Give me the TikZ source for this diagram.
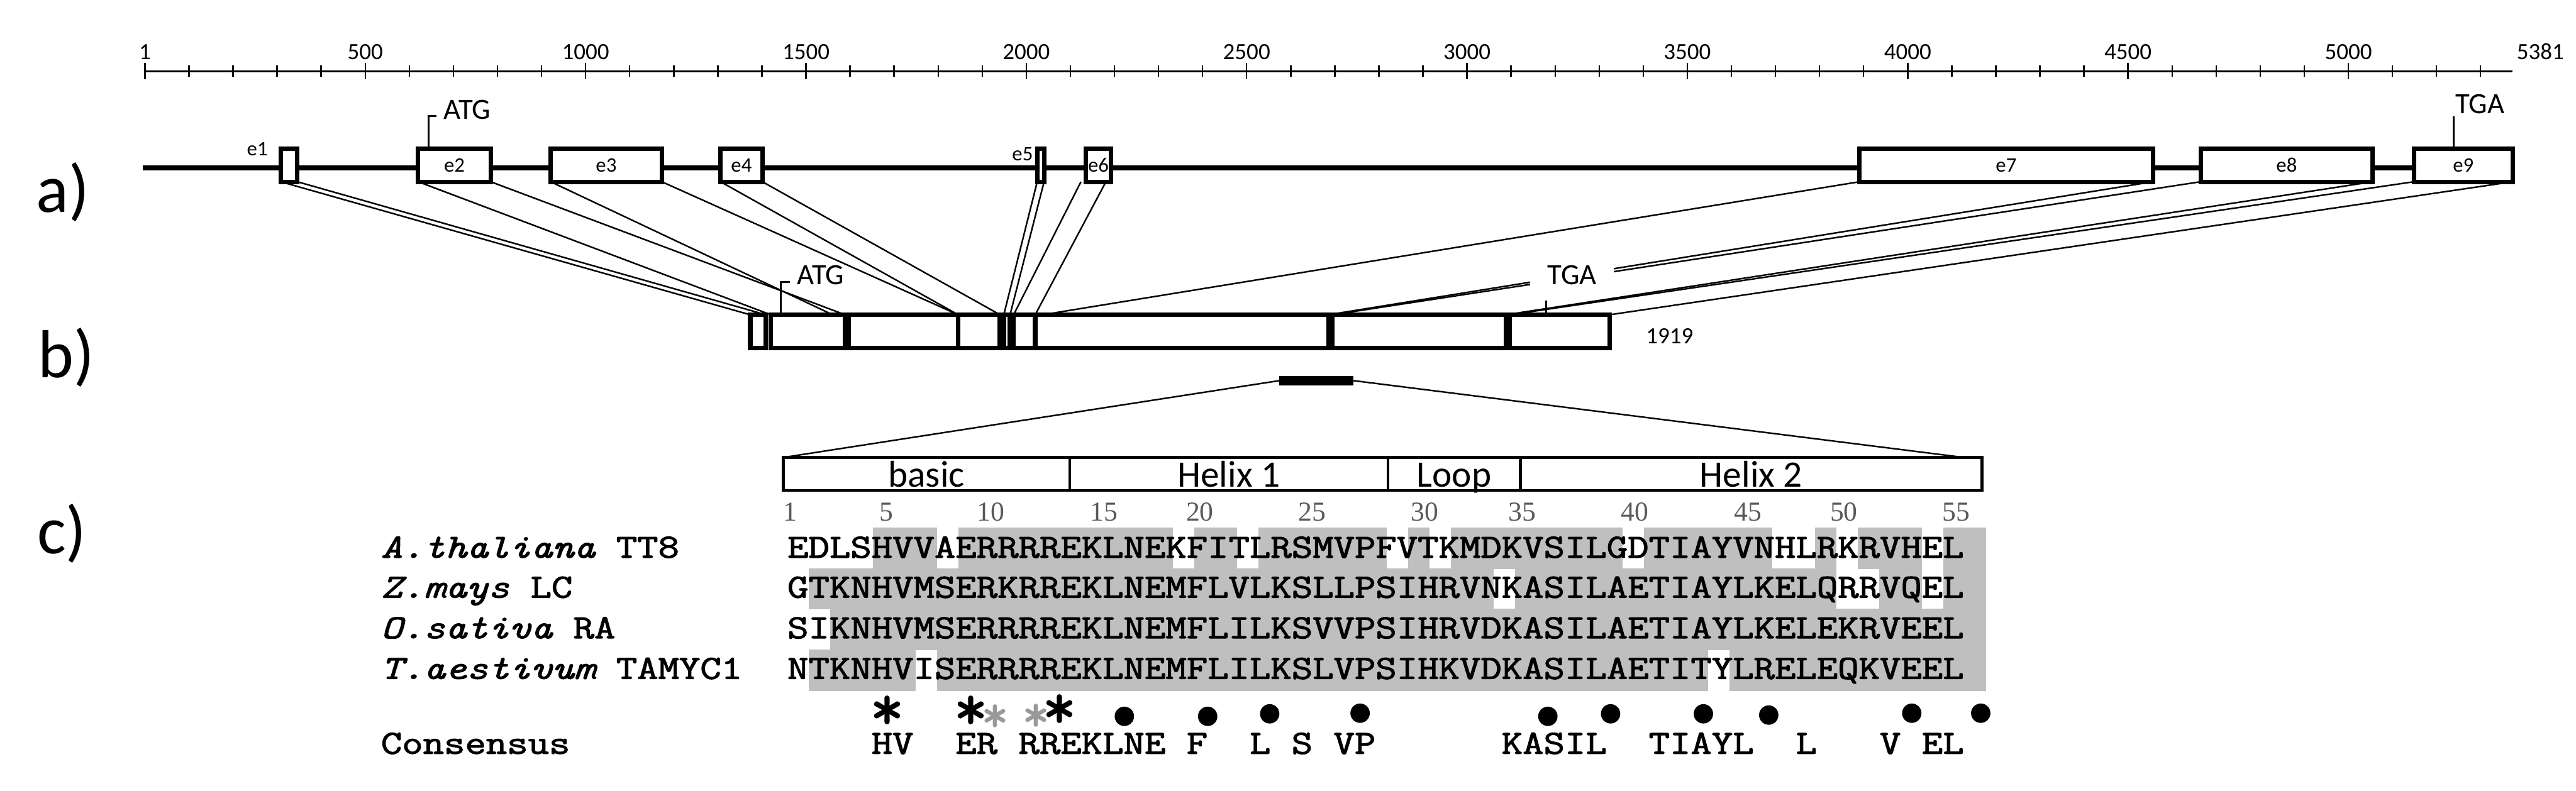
\documentclass[tikz,border=0pt]{standalone}
\usepackage{fontspec}
\usepackage{graphicx}
\setmainfont{Carlito}
\newfontfamily\timesfont{Liberation Serif}
\newfontfamily\aafont[FakeBold=2]{Latin Modern Mono}
\usetikzlibrary{shapes,calc}

\definecolor{aashade}{gray}{0.75}
\definecolor{starshade}{gray}{0.6}
\definecolor{numshade}{gray}{0.35}

\tikzset{
  exon/.style={draw, rectangle, line width=2pt, fill=white, inner sep=0pt, minimum height=0.53cm, font=\fontsize{9.4}{10}\selectfont},
  cdna/.style={draw, rectangle, line width=2.1pt, inner sep=0pt, minimum height=0.53cm},
  motifbox/.style={draw, rectangle, line width=1.3pt, inner sep=0pt, minimum height=0.53cm, text height=0.46cm, text depth=0.04cm, font=\fontsize{17}{18}\selectfont},
  guide/.style={line width=0.7pt},
  leader/.style={line width=0.85pt},
  rulerlab/.style={font=\fontsize{10.6}{11}\selectfont},
  codon/.style={font=\fontsize{13.4}{14}\selectfont},
  panel/.style={font=\fontsize{31}{33}\selectfont},
  aanum/.style={text=numshade, font=\timesfont\fontsize{12.5}{13}\selectfont},
  aarow/.style={anchor=base west, inner sep=0pt, font=\fontsize{18.58}{19}\selectfont},
  consdot/.style={circle, fill=black, inner sep=0pt, minimum size=0.31cm},
  aastar/.style={inner sep=0pt, font=\ttfamily\bfseries\fontsize{30}{30}\selectfont},
  greystar/.style={aastar, text=starshade, font=\ttfamily\bfseries\fontsize{24}{24}\selectfont}
}
\newcommand{\aatext}[1]{\scalebox{1}[0.83]{\aafont #1}}

\begin{document}
\begin{tikzpicture}[auto, outer sep=0pt, node distance=0cm]
\useasboundingbox (0, 0) rectangle (41.24, -12.66);

% ruler
\draw [line width=0.8pt] (2.32, -1.14) coordinate (ruler_start) -- (40.22, -1.14) coordinate (ruler_end);
\foreach \tick in {0,...,53} {
  \draw [line width=0.7pt] ($(ruler_start)+(\tick*0.7055, 0.09)$) -- ++(0, -0.18);
}
\foreach \tick/\lab in {0/1, 5/500, 10/1000, 15/1500, 20/2000, 25/2500, 30/3000, 35/3500, 40/4000, 45/4500, 50/5000} {
  \draw [line width=0.7pt] ($(ruler_start)+(\tick*0.7055, 0.13)$) -- ++(0, -0.26);
  \node [rulerlab] at ($(ruler_start)+(\tick*0.7055, 0.31)$) (tick_\tick) {\lab};
}
\node [rulerlab] at (40.67, -0.83) (tick_end) {5381};

% a) genomic
\node [panel] at (1.01, -3.08) (panel_a) {a)};
\draw [line width=2.3pt] (2.29, -2.69) coordinate (gene_start) -- (39.9, -2.69) coordinate (gene_end);
\node [exon, minimum width=0.265cm] at (4.6275, -2.645) (e1) {};
\node [exon, minimum width=1.16cm] at (7.275, -2.645) (e2) {e2};
\node [exon, minimum width=1.78cm] at (9.705, -2.645) (e3) {e3};
\node [exon, minimum width=0.67cm] at (11.87, -2.645) (e4) {e4};
\node [exon, minimum width=0.11cm] at (16.66, -2.645) (e5) {};
\node [exon, minimum width=0.40cm] at (17.585, -2.645) (e6) {e6};
\node [exon, minimum width=4.695cm] at (32.1175, -2.645) (e7) {e7};
\node [exon, minimum width=2.755cm] at (36.6075, -2.645) (e8) {e8};
\node [exon, minimum width=1.58cm] at (39.435, -2.645) (e9) {e9};
\node [font=\fontsize{9.4}{10}\selectfont] at (4.12, -2.39) (e1_lab) {e1};
\node [font=\fontsize{9.4}{10}\selectfont] at (16.37, -2.47) (e5_lab) {e5};
\node [codon] at (7.48, -1.76) (atg_a) {ATG};
\node [codon] at (39.7, -1.67) (tga_a) {TGA};
\draw [leader] ($(e2.north west)+(0.165, 0)$) |- ($(atg_a.west)+(0, -0.1)$);
\draw [leader] ($(e9.north west)+(0.635, 0)$) -- ++(0, 0.52);

% b) cDNA
\node [panel] at (1.06, -5.72) (panel_b) {b)};
\node [cdna, minimum width=0.25cm] at (12.135, -5.305) (b1) {};
\node [cdna, minimum width=1.19cm] at (12.935, -5.305) (b2) {};
\node [cdna, minimum width=1.75cm] at (14.465, -5.305) (b3) {};
\node [cdna, minimum width=0.67cm] at (15.675, -5.305) (b4) {};
\node [cdna, minimum width=0.10cm] at (16.12, -5.305) (b5) {};
\node [cdna, minimum width=0.345cm] at (16.40, -5.305) (b6) {};
\node [cdna, minimum width=4.695cm] at (18.92, -5.305) (b7) {};
\node [cdna, minimum width=2.78cm] at (22.72, -5.305) (b8) {};
\node [cdna, minimum width=1.60cm] at (24.97, -5.305) (b9) {};
\node [rulerlab] at (26.73, -5.38) (len_b) {1919};

% exon to cDNA
\foreach \from/\to in {e1.south west/b1.north west, e1.south east/b1.north east,
  e2.south west/b2.north west, e2.south east/b2.north east,
  e3.south east/b3.north east, e4.south west/b4.north west, e4.south east/b4.north east,
  e5.south west/b5.north west, e5.south east/b5.north east,
  e7.south east/b7.north east, e8.south west/b8.north west, e8.south east/b8.north east,
  e9.south west/b9.north west, e9.south east/b9.north east} {
  \draw [guide] (\from) -- (\to);
}
\draw [guide] (e3.south west) -- ($(b3.north west)+(-0.26, 0)$);
\draw [guide] ($(e6.south west)+(-0.08, 0)$) -- (b6.north west);
\draw [guide] ($(e6.south east)+(-0.08, 0)$) -- (b6.north east);
\draw [guide] (e7.south west) -- ($(b7.north west)+(0.12, 0)$);

\node [codon] at (13.14, -4.4) (atg_b) {ATG};
\node [codon, fill=white, minimum width=1.34cm, minimum height=0.5cm, inner sep=0pt] at (25.17, -4.4) (tga_b) {TGA};
\draw [leader] ($(b2.north west)+(0.16, 0)$) |- ($(atg_b.west)+(0, -0.12)$);
\draw [leader] ($(b9.north west)+(0.58, 0)$) -- ++(0, 0.23);

% c) bHLH alignment
\node [panel] at (0.99, -8.54) (panel_c) {c)};
\node [fill=black, minimum width=1.19cm, minimum height=0.15cm, inner sep=0pt] at (21.075, -6.095) (dom_bar) {};
\node [motifbox, minimum width=4.584cm] at (14.832, -7.59) (basic) {basic};
\node [motifbox, minimum width=5.096cm] at (19.672, -7.59) (helix1) {Helix 1};
\node [motifbox, minimum width=2.118cm] at (23.279, -7.59) (loop) {Loop};
\node [motifbox, minimum width=7.392cm] at (28.034, -7.59) (helix2) {Helix 2};
\draw [guide] (dom_bar.west) -- (basic.north west);
\draw [guide] (dom_bar.east) -- ($(helix2.north east)+(-0.29, 0)$);

\foreach \lab/\x in {1/12.65, 5/14.19, 10/15.86, 15/17.67, 20/19.21, 25/21.01, 30/22.81, 35/24.37, 40/26.17, 45/27.98, 50/29.52, 55/31.32} {
  \node [aanum] at (\x, -8.2) (num_\lab) {\lab};
}

% shading, in alignment columns
\foreach \row/\first/\last in {0/4/6, 0/8/17, 0/19/20, 0/22/27, 0/29/29, 0/31/38, 0/40/45, 0/48/48, 0/50/52, 0/54/55,
  1/1/32, 1/34/48, 1/51/52, 1/54/55, 2/2/55, 3/1/5, 3/7/42, 3/44/55} {
  \fill [aashade] ({12.607+\first*0.3427}, {-8.45-\row*0.65}) rectangle ({12.607+(\last+1)*0.3427}, {-8.45-(\row+1)*0.65-0.01});
}

\node [aarow] at (6.1, -8.93) (name_at) {\aatext{{\itshape A.thaliana}~TT8}};
\node [aarow] at (6.1, -9.57) (name_zm) {\aatext{{\itshape Z.mays}~LC}};
\node [aarow] at (6.1, -10.22) (name_os) {\aatext{{\itshape O.sativa}~RA}};
\node [aarow] at (6.1, -10.87) (name_ta) {\aatext{{\itshape T.aestivum}~TAMYC1}};
\node [aarow] at (6.1, -12.07) (name_cons) {\aatext{Consensus}};
\node [aarow] at (12.607, -8.93) (seq_at) {\aatext{EDLSHVVAERRRREKLNEKFITLRSMVPFVTKMDKVSILGDTIAYVNHLRKRVHEL}};
\node [aarow] at (12.607, -9.57) (seq_zm) {\aatext{GTKNHVMSERKRREKLNEMFLVLKSLLPSIHRVNKASILAETIAYLKELQRRVQEL}};
\node [aarow] at (12.607, -10.22) (seq_os) {\aatext{SIKNHVMSERRRREKLNEMFLILKSVVPSIHRVDKASILAETIAYLKELEKRVEEL}};
\node [aarow] at (12.607, -10.87) (seq_ta) {\aatext{NTKNHVISERRRREKLNEMFLILKSLVPSIHKVDKASILAETITYLRELEQKVEEL}};
\node [aarow] at (12.607, -12.07) (seq_cons) {\aatext{~~~~HV~~ER~RREKLNE~F~~L~S~VP~~~~~~KASIL~~TIAYL~~L~~~V~EL}};

\foreach \x/\y [count=\i] in {14.21/-11.42, 15.545/-11.42, 16.96/-11.40} {
  \node [aastar] at (\x, \y) (star_\i) {*};
}
\foreach \x/\y [count=\i] in {15.93/-11.50, 16.59/-11.49} {
  \node [greystar] at (\x, \y) (gstar_\i) {*};
}
\foreach \x/\y [count=\i] in {18.0/-11.47, 19.334/-11.47, 20.327/-11.43, 21.774/-11.42, 24.78/-11.47, 25.784/-11.43, 27.27/-11.43, 28.316/-11.45, 30.606/-11.42, 31.71/-11.42} {
  \node [consdot] at (\x, \y) (dot_\i) {};
}
\end{tikzpicture}
\end{document}
